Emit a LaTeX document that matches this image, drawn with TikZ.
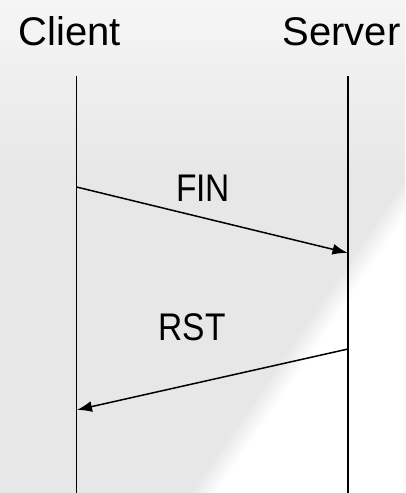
\documentclass[tikz,border=0pt]{standalone}
\usepackage{fontspec}
\setmainfont{Liberation Sans}
\newfontfamily\msgfont{Liberation Sans}[FakeStretch=0.87]
\usetikzlibrary{arrows.meta}
\definecolor{bgmid}{HTML}{E7E7E7}
\definecolor{bgtop}{HTML}{F5F5F5}
\tikzset{
  party/.style={font=\fontsize{40}{40}\selectfont, anchor=base, inner sep=0pt},
  msglabel/.style={font=\msgfont\fontsize{38.5}{38.5}\selectfont, anchor=base, inner sep=0pt},
  lifeline/.style={line width=1.1pt, black},
  msgarrow/.style={line width=1.5pt, black, -{Latex[length=15pt,width=11pt]}, shorten >=0.5pt}
}
\begin{document}
\begin{tikzpicture}[x=1pt, y=-1pt]
  \useasboundingbox (0,0) rectangle (405,493);
  % soft grey backdrop: lighter towards the top, white in the lower-right corner
  \begin{scope}
    \clip (0,0) rectangle (405,493);
    \fill[bgmid] (0,0) rectangle (405,493);
    \foreach \i in {0,...,17} {
      \pgfmathsetmacro{\mix}{100-\i*100/17}
      \fill[bgtop!\mix!bgmid] (0,{\i*10}) rectangle (405,{\i*10+10.5});
    }
    % soft diagonal edge, normal (0.82,0.56), through (293,362)
    \foreach \i in {0,...,11} {
      \pgfmathsetmacro{\mix}{\i*100/11}
      \pgfmathsetmacro{\a}{-12+2*\i}
      \pgfmathsetmacro{\b}{-9.5+2*\i}
      \fill[white!\mix!bgmid]
        ({293+\a*0.82-336},{362+\a*0.56+492}) --
        ({293+\a*0.82+336},{362+\a*0.56-492}) --
        ({293+\b*0.82+336},{362+\b*0.56-492}) --
        ({293+\b*0.82-336},{362+\b*0.56+492}) -- cycle;
    }
    \fill[white]
      ({293+12*0.82-336},{362+12*0.56+492}) --
      ({293+12*0.82+336},{362+12*0.56-492}) --
      ({293+600*0.82+336},{362+600*0.56-492}) --
      ({293+600*0.82-336},{362+600*0.56+492}) -- cycle;
  \end{scope}

  % participants
  \node[party] (client) at (70,45) {Client};
  \node[party] (server) at (341.5,45) {Server};

  % lifeline end points and message end points
  \coordinate (ctop) at (76.5,76);
  \coordinate (cbot) at (76.5,493);
  \coordinate (stop) at (348,76);
  \coordinate (sbot) at (348,493);
  \coordinate (c1) at (76.5,187);
  \coordinate (s1) at (348,253);
  \coordinate (s2) at (348,349);
  \coordinate (c2) at (76.5,410);

  \draw[lifeline] (ctop) -- (cbot);
  \draw[lifeline] (stop) -- (sbot);

  % messages
  \draw[msgarrow] (c1) -- (s1);
  \draw[msgarrow] (s2) -- (c2);
  \node[msglabel] (fin) at (203,201) {FIN};
  \node[msglabel] (rst) at (192,340) {RST};
\end{tikzpicture}
\end{document}
